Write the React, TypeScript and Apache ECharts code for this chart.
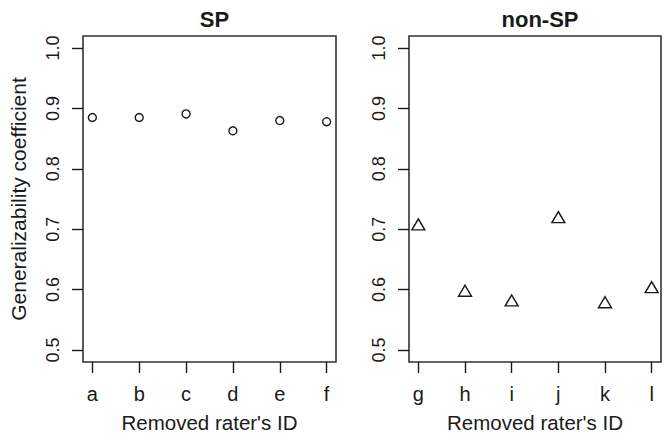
import React, { useEffect, useRef } from "react";
import * as echarts from "echarts";

const spRaters = ["a", "b", "c", "d", "e", "f"];
const spValues = [0.885, 0.885, 0.891, 0.863, 0.88, 0.878];
const nonSpRaters = ["g", "h", "i", "j", "k", "l"];
const nonSpValues = [0.708, 0.598, 0.582, 0.72, 0.579, 0.604];
const yTicks = [0.5, 0.6, 0.7, 0.8, 0.9, 1.0];
const xPositions = [1, 2, 3, 4, 5, 6];
const panelTitles = ["SP", "non-SP"];
const xAxisTitle = "Removed rater's ID";
const yAxisTitle = "Generalizability coefficient";

const FONT = "'Liberation Sans', Arial, sans-serif";
const INK = "#1a1a1a";

export default function App() {
  const ref = useRef<HTMLDivElement>(null);
  useEffect(() => {
    if (!ref.current) return;
    const chart = echarts.init(ref.current, null, { renderer: "svg" });
    const grids = [
      { left: 83, top: 36, width: 253, height: 326 },
      { left: 409, top: 36, width: 252, height: 326 },
    ];
    const labelsets = [spRaters, nonSpRaters];
    const xAxes = grids.map((_, i) => ({
      type: "value",
      gridIndex: i,
      min: 0.8,
      max: 6.2,
      splitLine: { show: false },
      axisLine: { show: false },
      axisTick: { show: true, inside: false, length: 11, customValues: xPositions, lineStyle: { color: INK, width: 1.4 } },
      axisLabel: {
        show: true,
        customValues: xPositions,
        margin: 22,
        fontSize: 20,
        fontFamily: FONT,
        color: INK,
        formatter: (v: number) => labelsets[i][Math.round(v) - 1] ?? "",
      },
      name: xAxisTitle,
      nameLocation: "middle",
      nameGap: 50,
      nameTextStyle: { fontSize: 20.5, lineHeight: 20, fontFamily: FONT, color: INK },
    }));
    const yAxes = grids.map((_, i) => ({
      type: "value",
      gridIndex: i,
      min: 0.48,
      max: 1.02,
      splitLine: { show: false },
      axisLine: { show: false },
      axisTick: { show: true, inside: false, length: 11, customValues: yTicks, lineStyle: { color: INK, width: 1.4 } },
      axisLabel: {
        show: true,
        customValues: yTicks,
        rotate: 90,
        margin: 21,
        fontSize: 18,
        fontFamily: FONT,
        color: INK,
        formatter: (v: number) => v.toFixed(1),
      },
      name: i === 0 ? yAxisTitle : "",
      nameLocation: "middle",
      nameGap: 54,
      nameTextStyle: { fontSize: 21, fontFamily: FONT, color: INK },
    }));
    chart.setOption({
      animation: false,
      backgroundColor: "#ffffff",
      title: panelTitles.map((t, i) => ({
        text: t,
        left: grids[i].left + grids[i].width / 2,
        top: 3,
        textAlign: "center",
        textStyle: { fontSize: 22, fontWeight: "bold", fontFamily: FONT, color: INK },
      })),
      grid: grids.map((g) => ({
        ...g,
        containLabel: false,
        outerBoundsMode: "none",
        show: true,
        borderColor: "#333",
        borderWidth: 1.6,
        backgroundColor: "transparent",
      })),
      xAxis: xAxes,
      yAxis: yAxes,
      series: [
        {
          type: "scatter",
          xAxisIndex: 0,
          yAxisIndex: 0,
          symbol: "circle",
          symbolSize: 8,
          itemStyle: { color: "#fff", borderColor: INK, borderWidth: 1.4, opacity: 1 },
          data: spValues.map((v, k) => [xPositions[k], v]),
        },
        {
          type: "scatter",
          xAxisIndex: 1,
          yAxisIndex: 1,
          symbol: "triangle",
          symbolSize: [13, 11],
          itemStyle: { color: "#fff", borderColor: INK, borderWidth: 1.4, opacity: 1 },
          data: nonSpValues.map((v, k) => [xPositions[k], v]),
        },
      ],
    });
    return () => chart.dispose();
  }, []);
  return (
    <div
      ref={ref}
      style={{ position: "fixed", left: 0, top: 0, width: 669, height: 433, background: "#fff" }}
    />
  );
}
